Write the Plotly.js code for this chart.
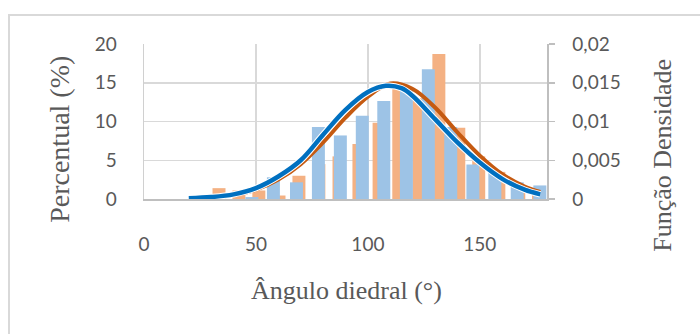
<!DOCTYPE html>
<html>
<head>
<meta charset="utf-8">
<script src="https://cdn.plot.ly/plotly-3.0.1.min.js"></script>
<style>
html,body{margin:0;padding:0;background:#fff;}
#chart{width:700px;height:334px;}
</style>
</head>
<body>
<div id="chart"></div>
<script>
// Orange histogram (bar centres in degrees, percent)
const orangeX = [33.5, 42.4, 51.3, 60.3, 69.2, 78.1, 87.1, 96.0, 105.0, 113.8, 122.8, 131.7, 140.6, 149.5, 158.5, 167.4, 176.2];
const orangeY = [1.4, 1.1, 1.1, 0.45, 3.0, 4.5, 5.5, 7.1, 9.85, 14.9, 13.0, 18.7, 9.2, 5.5, 3.5, 1.5, 0.7];
// Blue histogram
const blueX = [48.2, 57.8, 68.1, 77.9, 87.7, 97.5, 107.1, 117.2, 127.0, 137.0, 146.9, 156.7, 166.7, 176.8];
const blueY = [0.25, 2.8, 2.15, 9.3, 8.2, 10.75, 12.65, 14.3, 16.75, 9.3, 4.45, 3.6, 2.15, 1.75];
// Density curves (secondary axis)
const blueCurveX = [20, 30, 40, 50, 60, 70, 80, 90, 100, 108, 115, 120, 130, 140, 150, 160, 170, 177];
const blueCurveY = [0.0001, 0.00025, 0.0006, 0.0014, 0.0029, 0.0050, 0.0083, 0.0115, 0.0138, 0.0146, 0.0143, 0.0133, 0.0103, 0.0073, 0.0047, 0.0026, 0.0012, 0.0006];
const orangeCurveX = [26, 40, 50, 60, 70, 80, 90, 100, 110, 120, 130, 140, 150, 160, 170, 177];
const orangeCurveY = [0.0001, 0.0005, 0.0012, 0.0025, 0.0045, 0.0073, 0.0105, 0.0132, 0.0149, 0.0142, 0.0118, 0.0086, 0.0056, 0.0032, 0.0016, 0.0009];
// Axis ticks
const xTicks = [0, 50, 100, 150];
const yTicks = [0, 5, 10, 15, 20];
const y2Ticks = [0, 0.005, 0.01, 0.015, 0.02];
const y2TickText = ['0', '0,005', '0,01', '0,015', '0,02'];

const tickFont = {family: 'Lato, "Open Sans", sans-serif', size: 19, color: '#595959'};
const titleFont = {family: '"Liberation Serif", "Times New Roman", serif', size: 26, color: '#595959'};

const traces = [
  {type: 'bar', x: orangeX, y: orangeY, width: 5.8, marker: {color: '#F4B183'}, hoverinfo: 'skip'},
  {type: 'bar', x: blueX, y: blueY, width: 5.8, marker: {color: '#9DC3E6'}, hoverinfo: 'skip'},
  {type: 'scatter', mode: 'lines', x: orangeCurveX, y: orangeCurveY, yaxis: 'y2',
   line: {color: '#C55A11', width: 4, shape: 'spline', smoothing: 1}},
  {type: 'scatter', mode: 'lines', x: blueCurveX, y: blueCurveY, yaxis: 'y2',
   line: {color: '#ffffff', width: 6.5, shape: 'spline', smoothing: 1}},
  {type: 'scatter', mode: 'lines', x: blueCurveX, y: blueCurveY, yaxis: 'y2',
   line: {color: '#0070C0', width: 4.5, shape: 'spline', smoothing: 1}}
];

const W = 403, H = 155.3;
const px = v => (v - 144) / W;
const py = v => (199.3 - v) / H;

const layout = {
  width: 700, height: 334, autosize: false,
  margin: {l: 144, r: 153, t: 44, b: 134.7, pad: 0},
  paper_bgcolor: '#ffffff', plot_bgcolor: '#ffffff',
  showlegend: false, barmode: 'overlay',
  xaxis: {range: [0, 180], tickvals: xTicks, ticktext: xTicks.map(String),
    showgrid: true, gridcolor: '#d9d9d9', gridwidth: 1.5, zeroline: false,
    showline: true, linecolor: '#bfbfbf', linewidth: 1.5, mirror: false,
    ticks: '', tickfont: tickFont, ticklabelstandoff: 28},
  yaxis: {range: [0, 20], tickvals: yTicks, ticktext: yTicks.map(String),
    showgrid: true, gridcolor: '#d9d9d9', gridwidth: 1.5, zeroline: false,
    showline: true, linecolor: '#d0d0d0', linewidth: 1.5,
    ticks: '', tickfont: tickFont, ticklabelstandoff: 22},
  yaxis2: {range: [0, 0.02], overlaying: 'y', side: 'right', tickvals: y2Ticks, ticktext: y2TickText,
    showgrid: false, zeroline: false, showline: true, linecolor: '#bfbfbf', linewidth: 1.5,
    ticks: 'outside', ticklen: 6, tickwidth: 1.5, tickcolor: '#bfbfbf',
    tickfont: tickFont, ticklabelstandoff: 14},
  annotations: [
    {text: 'Percentual (%)', xref: 'paper', yref: 'paper', x: px(60), y: py(140), textangle: -90,
     showarrow: false, xanchor: 'center', yanchor: 'middle', font: Object.assign({}, titleFont, {size: 28})},
    {text: 'Função Densidade', xref: 'paper', yref: 'paper', x: px(663), y: py(156), textangle: -90,
     showarrow: false, xanchor: 'center', yanchor: 'middle', font: titleFont},
    {text: 'Ângulo diedral (°)', xref: 'paper', yref: 'paper', x: px(346), y: py(291),
     showarrow: false, xanchor: 'center', yanchor: 'middle', font: titleFont}
  ],
  shapes: [
    {type: 'rect', xref: 'paper', yref: 'paper', x0: px(9), x1: px(712), y0: py(345), y1: py(15),
     line: {color: '#d9d9d9', width: 2}, fillcolor: 'rgba(0,0,0,0)', layer: 'below'}
  ]
};

Plotly.newPlot('chart', traces, layout, {displayModeBar: false, staticPlot: true});
</script>
</body>
</html>
